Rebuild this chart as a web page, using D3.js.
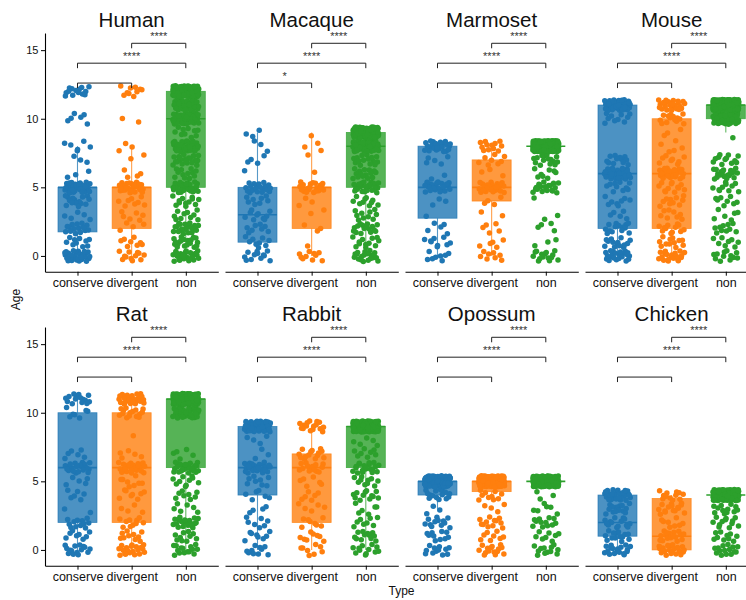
<!DOCTYPE html>
<html><head><meta charset="utf-8">
<script src="https://cdn.jsdelivr.net/npm/d3@7"></script>
<style>body{margin:0;background:#fff;} svg{display:block;font-family:"Liberation Sans",Arial,Helvetica,sans-serif;}</style>
</head><body><svg id="chart" width="746" height="600"></svg>
<script>
// ---------------- DATA ----------------
const species = ["Human","Macaque","Marmoset","Mouse","Rat","Rabbit","Opossum","Chicken"];
const types = ["conserve","divergent","non"];
const typeColors = ["#1f77b4","#ff7f0e","#2ca02c"];
const yTickValues = [0,5,10,15];
const axisTitleX = "Type";
const axisTitleY = "Age";

// number of genes at each integer Age (index = age), per species
const conserveCounts = [
  [30,10,15,5,15,35,3,3,6,0,6,0,14],
  [12,9,8,10,8,20,1,4,3,3],
  [8,9,5,1,3,22,2,5,24],
  [22,14,14,5,8,10,35,12,0,0,10,45],
  [15,8,12,2,6,5,20,6,0,0,7,15],
  [10,8,7,4,6,8,25,3,4,55],
  [12,10,12,3,15,110],
  [18,14,14,14,30]
];
const divergentCounts = [
  [12,8,4,6,8,25,4,2,3,0,2,0,10],
  [10,1,3,2,3,22,1,1,3,1],
  [8,5,5,2,4,25,3,8,12],
  [20,12,12,8,10,12,25,8,5,3,14,25],
  [20,10,10,4,8,8,25,5,1,0,15,25],
  [8,8,8,5,6,6,14,14,0,16],
  [15,8,12,4,10,145],
  [20,17,8,15,12]
];
const nonCounts = [
  [25,18,22,10,12,30,12,20,35,10,50,30,130],
  [20,12,16,10,10,25,15,15,60,90],
  [15,3,4,2,1,20,8,15,220],
  [12,8,10,6,8,10,20,12,0,1,60,250],
  [15,10,20,6,8,10,25,5,0,0,35,150],
  [12,12,8,6,12,10,20,8,5,150],
  [12,8,12,6,3,140],
  [15,10,12,12,160]
];

// box statistics: [q1, median, q3, lower whisker, upper whisker]
const conserveBox = [
  [1.75,5,5,0,8],[1,3,5,0,9],[2.75,5,8,0,8],[2,6,11,0,11],
  [2,6,10,0,11],[4,6,9,0,9],[4,5,5,3,5],[1,2,4,0,4]
];
const divergentBox = [
  [2,5,5,0,8],[2,5,5,0,9],[4,5,7,0,8],[2,6,10,0,11],
  [2,6,10,0,11],[2,6,7,0,9],[4.25,5,5,4,5],[0,1,3.75,0,4]
];
const nonBox = [
  [5,10,12,0,12],[5,8,9,0,9],[8,8,8,8,8],[10,11,11,9,11],
  [6,11,11,0,11],[6,9,9,0,9],[5,5,5,5,5],[4,4,4,4,4]
];

// significance brackets (same positions in every panel)
const bracketPairs = [["conserve","divergent"],["conserve","non"],["divergent","non"]];
const bracketY = [12.6, 14.05, 15.5];
const bracketLabels = [
  ["","****","****"],["*","****","****"],["","****","****"],["","****","****"],
  ["","****","****"],["","****","****"],["","****","****"],["","****","****"]
];

// ---------------- LAYOUT ----------------
const panelW = 173.3, panelH = 238.7;
const colStep = 180, firstLeft = 45;
const rowTops = [33, 327];
const yDomain = [-1.15, 16.25];
const jitterW = 0.24, jitterH = 0.4;

const svg = d3.select("#chart");
const allCounts = [conserveCounts, divergentCounts, nonCounts];
const allBoxes = [conserveBox, divergentBox, nonBox];
// Halton low-discrepancy sequence for deterministic jitter offsets
function halton(index, base) {
  let f = 1, r = 0, n = index;
  while (n > 0) { f /= base; r += f * (n % base); n = Math.floor(n / base); }
  return r;
}

species.forEach((sp, i) => {
  const col = i % 4, row = Math.floor(i / 4);
  const left = firstLeft + col * colStep, top = rowTops[row];
  const x = d3.scalePoint().domain(types).range([left, left + panelW]).padding(0.6);
  const y = d3.scaleLinear().domain(yDomain).range([top + panelH, top]);
  const step = x.step();
  const g = svg.append("g");

  // title
  g.append("text").attr("x", left + panelW / 2).attr("y", top - 6.3)
    .attr("text-anchor", "middle").attr("font-size", 20.5).attr("fill", "#111").text(sp);

  // boxes
  types.forEach((t, j) => {
    const [q1, med, q3, lo, hi] = allBoxes[j][i];
    const cx = x(t), bw = step * 0.72, c = typeColors[j];
    g.append("line").attr("x1", cx).attr("x2", cx).attr("y1", y(q3)).attr("y2", y(hi))
      .attr("stroke", c).attr("stroke-width", 1.1).attr("stroke-opacity", 0.75);
    g.append("line").attr("x1", cx).attr("x2", cx).attr("y1", y(q1)).attr("y2", y(lo))
      .attr("stroke", c).attr("stroke-width", 1.1).attr("stroke-opacity", 0.75);
    g.append("rect").attr("x", cx - bw / 2).attr("y", y(q3)).attr("width", bw)
      .attr("height", Math.max(y(q1) - y(q3), 0))
      .attr("fill", c).attr("fill-opacity", 0.8)
      .attr("stroke", c).attr("stroke-opacity", 0.8).attr("stroke-width", 0.8);
    g.append("line").attr("x1", cx - bw / 2).attr("x2", cx + bw / 2).attr("y1", y(med)).attr("y2", y(med))
      .attr("stroke", c).attr("stroke-width", 1.6);
  });

  // jittered points (deterministic Halton offsets)
  types.forEach((t, j) => {
    const counts = allCounts[j][i];
    const pts = [];
    let k = 7 + i * 53 + j * 211;
    counts.forEach((n, age) => {
      for (let m = 0; m < n; m++) {
        k++;
        const dx = (halton(k, 2) * 2 - 1) * jitterW;
        const dy = (halton(k, 3) * 2 - 1) * jitterH;
        pts.push({dx, v: age + dy});
      }
    });
    g.append("g").selectAll("circle").data(pts).join("circle")
      .attr("cx", d => x(t) + d.dx * step)
      .attr("cy", d => y(d.v))
      .attr("r", 2.75)
      .attr("fill", typeColors[j]);
  });

  // x axis
  const xa = g.append("g").attr("transform", `translate(0,${top + panelH})`)
    .call(d3.axisBottom(x).tickSize(4).tickSizeOuter(0).tickPadding(2.5));
  xa.select(".domain").attr("stroke", "#000").attr("stroke-width", 1.1);
  xa.selectAll(".tick line").attr("stroke", "#000").attr("stroke-width", 1);
  xa.selectAll("text").attr("font-size", 12.5).attr("fill", "#111")
    .attr("font-family", '"Liberation Sans",Arial,sans-serif');

  // y axis (first column only)
  if (col === 0) {
    const ya = g.append("g").attr("transform", `translate(${left},0)`)
      .call(d3.axisLeft(y).tickValues(yTickValues).tickSize(4).tickSizeOuter(0).tickPadding(2.5));
    ya.select(".domain").attr("stroke", "#000").attr("stroke-width", 1.1);
    ya.selectAll(".tick line").attr("stroke", "#000").attr("stroke-width", 1);
    ya.selectAll("text").attr("font-size", 11).attr("fill", "#111")
      .attr("font-family", '"Liberation Sans",Arial,sans-serif');
  }

  // significance brackets
  bracketPairs.forEach((p, b) => {
    const x1 = x(p[0]), x2 = x(p[1]), yy = y(bracketY[b]), tip = 5;
    g.append("path").attr("d", `M${x1},${yy + tip}V${yy}H${x2}V${yy + tip}`)
      .attr("fill", "none").attr("stroke", "#222").attr("stroke-width", 1);
    const lab = bracketLabels[i][b];
    if (lab) {
      g.append("text").attr("x", (x1 + x2) / 2).attr("y", yy - 3.5)
        .attr("text-anchor", "middle").attr("font-size", 11).attr("fill", "#333").text(lab);
    }
  });
});

// axis titles
svg.append("text").attr("transform", "translate(20,299.5) rotate(-90)")
  .attr("text-anchor", "middle").attr("font-size", 12).attr("fill", "#111").text(axisTitleY);
svg.append("text").attr("x", 401.5).attr("y", 595)
  .attr("text-anchor", "middle").attr("font-size", 12).attr("fill", "#111").text(axisTitleX);
</script>
</body></html>
